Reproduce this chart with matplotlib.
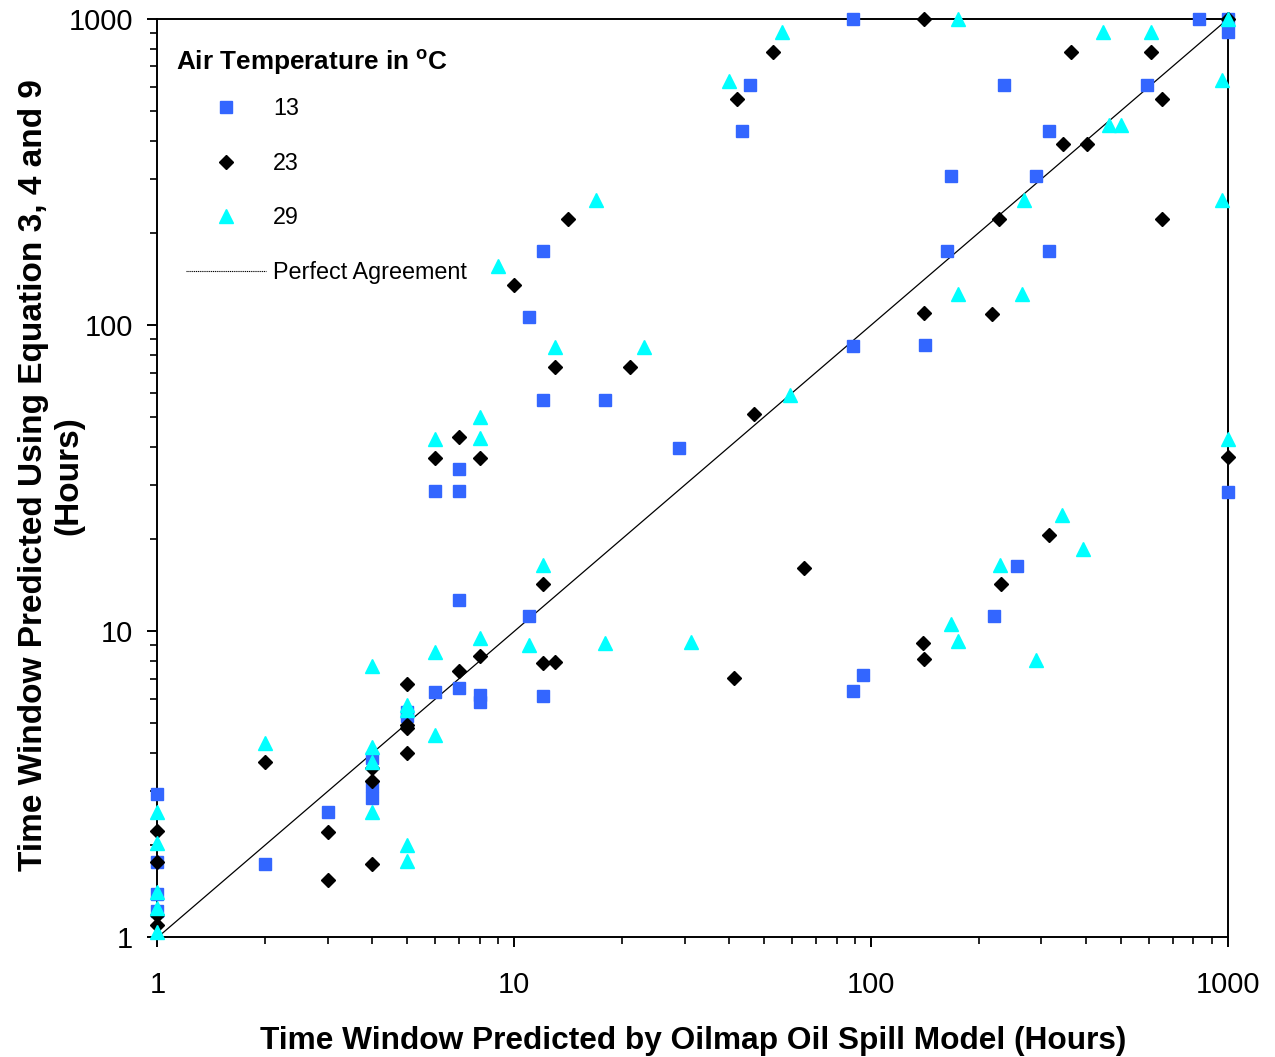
import matplotlib
matplotlib.use('Agg')
import matplotlib.pyplot as plt
from matplotlib.lines import Line2D
from matplotlib.ticker import NullFormatter, LogLocator

plt.rcParams['font.family'] = ['Liberation Sans', 'DejaVu Sans']
plt.rcParams['mathtext.fontset'] = 'custom'
plt.rcParams['mathtext.rm'] = 'Liberation Sans'
plt.rcParams['mathtext.bf'] = 'Liberation Sans:bold'

# air temp 13 C (squares)
x13 = [1, 1, 1, 1, 2, 3, 4, 4, 4, 5, 5, 6, 6, 7, 7, 7, 7, 8, 8, 11, 11, 12, 12, 12, 18, 29,
       43.4, 45.7, 89, 89, 95, 89, 142, 163, 167.5, 221.5, 235.7, 256.5, 290, 315, 315, 592,
       831, 1000, 1000, 1000]
y13 = [2.95, 1.77, 1.39, 1.22, 1.74, 2.56, 3.85, 3.12, 2.85, 5.45, 5.3, 6.32, 28.7, 6.55, 12.65,
       28.7, 33.9, 6.19, 5.89, 11.2, 106.5, 6.15, 57, 174.6, 57, 39.6, 430, 608, 1000, 85.6, 7.18,
       6.38, 86, 175, 307.5, 11.2, 608, 16.3, 307.5, 430, 175, 608, 1000, 1000, 908, 28.6]

# air temp 23 C (diamonds)
x23 = [1, 1, 1, 1, 2, 3, 3, 4, 4, 4, 5, 5, 5, 5, 6, 7, 7, 8, 8, 10, 12, 12, 13, 13, 14.1, 21.1,
       41.2, 42, 47.1, 53.2, 64.8, 139.5, 140.7, 140.7, 140.7, 217.8, 228.8, 231, 315, 345.7,
       363, 403.6, 609, 655, 655, 1000, 1000]
y23 = [2.23, 1.77, 1.18, 1.10, 3.75, 2.21, 1.54, 3.57, 3.25, 1.74, 6.71, 4.94, 4.82, 4.0, 36.9,
       43.2, 7.44, 36.9, 8.3, 135, 7.86, 14.3, 7.96, 73.1, 222, 73, 7.02, 547, 51.1, 782, 16.1,
       9.14, 8.1, 109.3, 1000, 109, 222, 14.3, 20.7, 390, 782, 390, 782, 547, 222, 1000, 37.0]

# air temp 29 C (triangles)
x29 = [1, 1, 1, 1, 1, 2, 4, 4, 4, 4, 5, 5, 5, 5, 6, 6, 6, 8, 8, 8, 9, 11, 12, 13, 16.9, 18,
       23.1, 31.2, 40, 56.2, 59.3, 167.5, 175, 175, 175, 229, 264, 268.8, 290, 342, 392, 447.6,
       464, 501, 609, 960, 960, 1000, 1000]
y29 = [2.56, 2.03, 1.41, 1.25, 1.04, 4.33, 7.7, 4.2, 3.75, 2.56, 5.75, 5.55, 2.0, 1.78, 42.6,
       8.58, 4.59, 50, 42.7, 9.49, 156, 9.0, 16.5, 85, 256, 9.14, 85, 9.25, 629, 904, 59.1, 10.6,
       9.32, 126.4, 1000, 16.4, 126, 256, 8.06, 23.9, 18.5, 904, 450, 450, 904, 631.7, 256, 1000,
       42.5]

agree = [1, 1000]

fig = plt.figure(figsize=(12.75, 10.57), dpi=100)
ax = fig.add_axes([0.1235, 0.1131, 0.8396, 0.869])

ax.plot(agree, agree, color='black', lw=0.9, zorder=2)
ax.plot(x13, y13, ls='none', marker='s', ms=9, color='#3366ff', mec='#3366ff', clip_on=False, zorder=3)
ax.plot(x23, y23, ls='none', marker='D', ms=7, color='black', clip_on=False, zorder=4)
ax.plot(x29, y29, ls='none', marker='^', ms=10.5, color='#00ffff', mec='#00ffff', clip_on=False, zorder=5)

ax.set_xscale('log')
ax.set_yscale('log')
ax.set_xlim(1, 1000)
ax.set_ylim(1, 1000)
ticks = [1, 10, 100, 1000]
ax.set_xticks(ticks)
ax.set_xticklabels(['1', '10', '100', '1000'])
ax.set_yticks(ticks)
ax.set_yticklabels(['1', '10', '100', '1000'])
for axis in (ax.xaxis, ax.yaxis):
    axis.set_minor_locator(LogLocator(base=10, subs=range(2, 10)))
    axis.set_minor_formatter(NullFormatter())
ax.tick_params(which='major', direction='out', length=7.5, width=1.4, labelsize=21, pad=10)
ax.tick_params(which='minor', direction='out', length=5, width=1.2)
ax.tick_params(axis='x', which='major', pad=17)
for s in ax.spines.values():
    s.set_linewidth(1.4)

ax.set_xlabel('Time Window Predicted by Oilmap Oil Spill Model (Hours)',
              fontsize=22.8, fontweight='bold')
ax.xaxis.set_label_coords(0.5, -0.096)
ax.set_ylabel('Time Window Predicted Using Equation 3, 4 and 9\n(Hours)',
              fontsize=24, fontweight='bold', linespacing=1.2)
ax.yaxis.set_label_coords(-0.068, 0.503)

# legend title drawn on its own so the handles can sit indented under it
ax.text(0.0173, 0.9532, 'Air Temperature in $^{\\mathbf{o}}$C', transform=ax.transAxes,
        ha='left', va='center', fontsize=18.8, fontweight='bold')

handles = [
    Line2D([], [], ls='none', marker='s', ms=9, color='#3366ff'),
    Line2D([], [], ls='none', marker='D', ms=7, color='black'),
    Line2D([], [], ls='none', marker='^', ms=10.5, color='#00ffff'),
    Line2D([], [], color='black', lw=0.8, ls=(0, (1, 0.7))),
]
leg = ax.legend(handles, ['13', '23', '29', 'Perfect Agreement'],
                loc='upper left', bbox_to_anchor=(0.0266, 0.915), frameon=False,
                fontsize=16.8, handlelength=3.43, handletextpad=0.3, labelspacing=1.36,
                borderaxespad=0, borderpad=0)

fig.savefig('out.png', dpi=100)
